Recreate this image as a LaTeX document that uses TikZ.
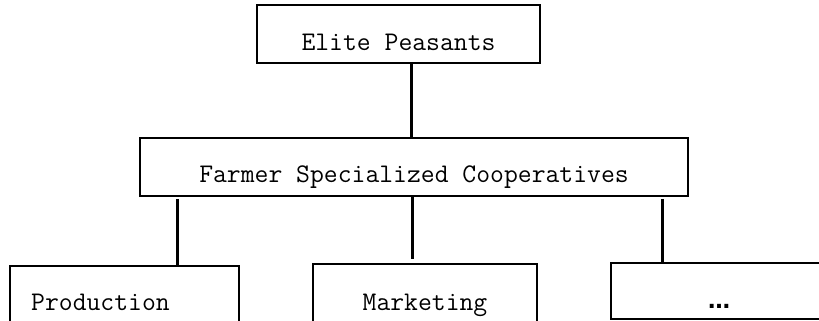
\documentclass[tikz,border=0pt]{standalone}
\usepackage{fontspec}
\newfontfamily\dotsfont{DejaVu Sans}
\begin{document}
\begin{tikzpicture}[x=1pt,y=-1pt,
  box/.style={draw=black,line width=1.7pt,rectangle,inner sep=0pt,fill=white},
  label/.style={inner sep=0pt,font=\ttfamily\fontsize{26.9}{30}\selectfont},
  link/.style={draw=black,line width=3pt}]
  \useasboundingbox (0,0) rectangle (819,321);
  \clip (0,0) rectangle (819,321);

  % boxes
  \node[box,minimum width=283pt,minimum height=58pt] (elite) at (398.5,34) {};
  \node[box,minimum width=548pt,minimum height=58pt] (coop)  at (414,167) {};
  \node[box,minimum width=229pt,minimum height=58pt] (prod)  at (124.5,295) {};
  \node[box,minimum width=224pt,minimum height=58pt] (mkt)   at (425,293) {};
  \node[box,minimum width=229pt,minimum height=56pt] (more)  at (725.5,291) {};

  % box texts
  \node[label,anchor=base] (eliteT) at (398.5,51) {Elite Peasants};
  \node[label,anchor=base] (coopT) at (414,182) {Farmer Specialized Cooperatives};
  \node[label,anchor=base west] (prodT) at (31,310) {Production};
  \node[label,anchor=base] (mktT) at (425,310.5) {Marketing};
  \node[inner sep=0pt,anchor=base,font=\dotsfont\bfseries\fontsize{22}{24}\selectfont] (moreT) at (719,308) {…};

  % connector columns
  \coordinate (c0) at (411,0);
  \coordinate (c1) at (177,0);
  \coordinate (c2) at (412,0);
  \coordinate (c3) at (662,0);

  % connectors
  \draw[link] (elite.south -| c0) -- (coop.north -| c0);
  \draw[link,shorten <=2pt] (coop.south -| c1) -- (prod.north -| c1);
  \draw[link,shorten >=4pt] (coop.south -| c2) -- (mkt.north -| c2);
  \draw[link,shorten <=2pt] (coop.south -| c3) -- (more.north -| c3);
\end{tikzpicture}
\end{document}
